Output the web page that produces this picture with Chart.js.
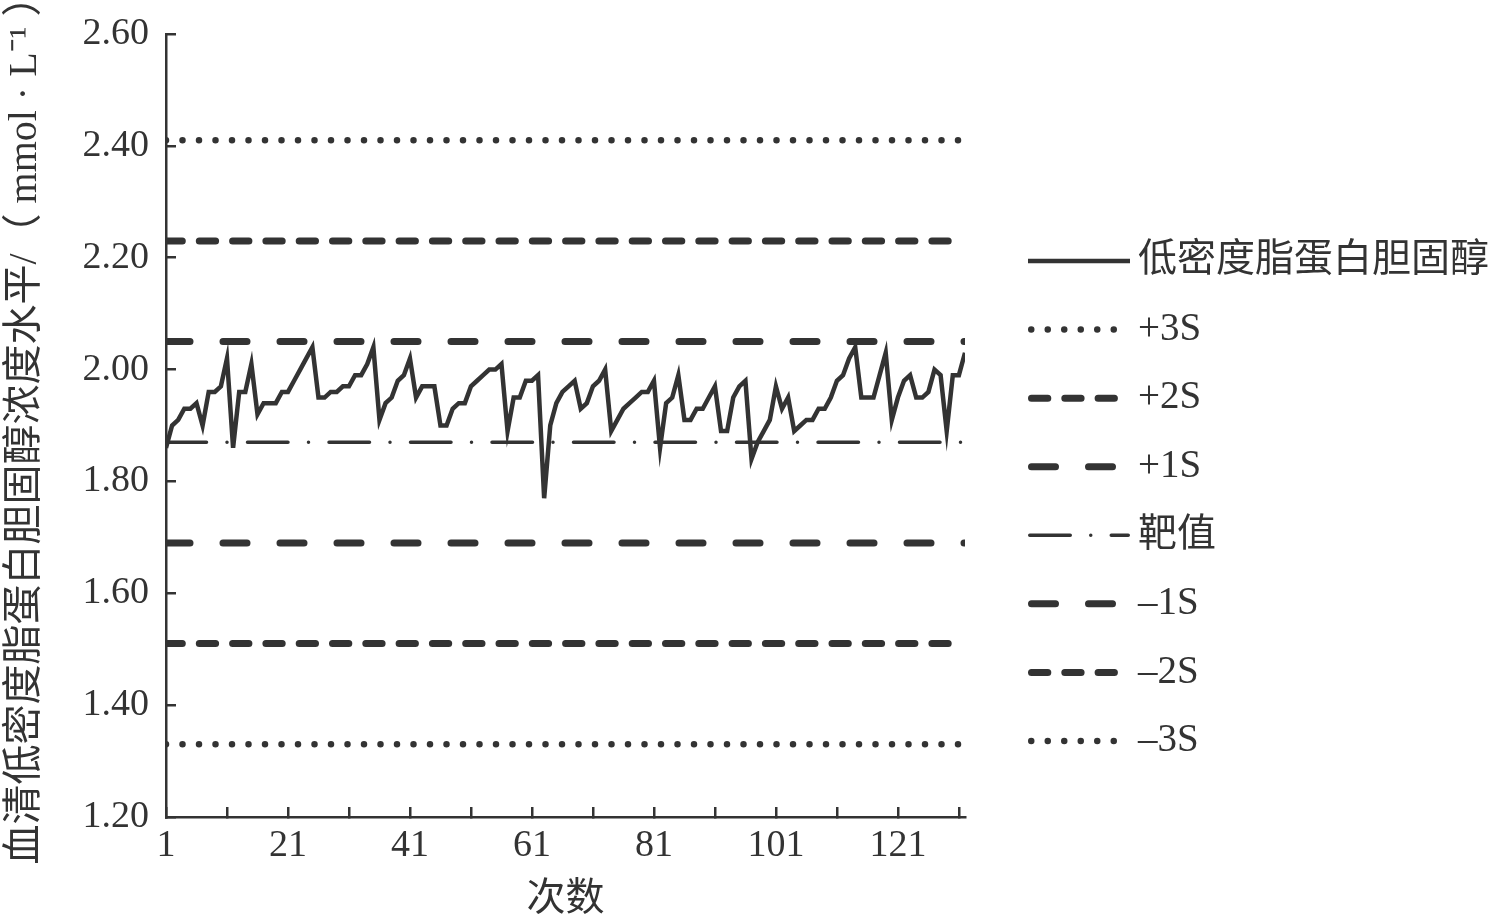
<!DOCTYPE html>
<html lang="zh">
<head>
<meta charset="utf-8">
<title>低密度脂蛋白胆固醇质控图</title>
<script src="https://cdn.jsdelivr.net/npm/chart.js@4.4.1/dist/chart.umd.min.js"></script>
<style>
  html, body { margin: 0; padding: 0; background: #fff; }
  #wrap { width: 1500px; height: 919px; position: relative; }
</style>
</head>
<body>
<div id="wrap"><canvas id="qc-chart"></canvas></div>
<script>
/* ---- Data ---- */
const seriesLabel = '低密度脂蛋白胆固醇';
const ldlValues = [
  1.86, 1.90, 1.91, 1.93, 1.93, 1.94, 1.90, 1.96, 1.96, 1.97,
  2.02, 1.86, 1.96, 1.96, 2.01, 1.92, 1.94, 1.94, 1.94, 1.96,
  1.96, 1.98, 2.00, 2.02, 2.04, 1.95, 1.95, 1.96, 1.96, 1.97,
  1.97, 1.99, 1.99, 2.01, 2.04, 1.91, 1.94, 1.95, 1.98, 1.99,
  2.02, 1.95, 1.97, 1.97, 1.97, 1.90, 1.90, 1.93, 1.94, 1.94,
  1.97, 1.98, 1.99, 2.00, 2.00, 2.01, 1.89, 1.95, 1.95, 1.98,
  1.98, 1.99, 1.77, 1.90, 1.94, 1.96, 1.97, 1.98, 1.93, 1.94,
  1.97, 1.98, 2.00, 1.89, 1.91, 1.93, 1.94, 1.95, 1.96, 1.96,
  1.98, 1.86, 1.94, 1.95, 1.99, 1.91, 1.91, 1.93, 1.93, 1.95,
  1.97, 1.89, 1.89, 1.95, 1.97, 1.98, 1.84, 1.87, 1.89, 1.91,
  1.97, 1.93, 1.95, 1.89, 1.90, 1.91, 1.91, 1.93, 1.93, 1.95,
  1.98, 1.99, 2.02, 2.04, 1.95, 1.95, 1.95, 1.99, 2.03, 1.91,
  1.95, 1.98, 1.99, 1.95, 1.95, 1.96, 2.00, 1.99, 1.89, 1.99,
  1.99, 2.03
];
const limitLabels = ['+3S', '+2S', '+1S', '靶值', '–1S', '–2S', '–3S'];
const limitValues = [2.41, 2.23, 2.05, 1.87, 1.69, 1.51, 1.33];
const limitStyles = ['dot', 'dash2', 'dash1', 'target', 'dash1', 'dash2', 'dot'];

const yTicks = [1.20, 1.40, 1.60, 1.80, 2.00, 2.20, 2.40, 2.60];
const xTicks = [1, 11, 21, 31, 41, 51, 61, 71, 81, 91, 101, 111, 121, 131];
const xLabels = [1, 21, 41, 61, 81, 101, 121];
const xTitle = '次数';
const yTitle = '血清低密度脂蛋白胆固醇浓度水平/（ mmol · L⁻¹ ）';

/* ---- Styles ---- */
const INK = '#333';
const SERIF = "'Liberation Serif', 'Noto Sans CJK SC', serif";

const LINE_STYLES = {
  solid:  { borderWidth: 4.5, borderDash: [],                    borderCapStyle: 'butt',  legendEnd: 1130 },
  dot:    { borderWidth: 6.5, borderDash: [0, 16.5],             borderCapStyle: 'round', legendEnd: 1118 },
  dash2:  { borderWidth: 7,   borderDash: [16.3, 17],            borderCapStyle: 'round', legendEnd: 1118 },
  dash1:  { borderWidth: 7,   borderDash: [24, 33],              borderCapStyle: 'round', legendEnd: 1118 },
  target: { borderWidth: 3.5, borderDash: [40.5, 20.5, 0, 20.5], borderCapStyle: 'round', legendEnd: 1130 },
};

function makeDataset(label, points, styleKey) {
  const s = LINE_STYLES[styleKey];
  return {
    label, data: points,
    borderColor: INK, borderWidth: s.borderWidth, borderDash: s.borderDash,
    borderCapStyle: s.borderCapStyle, borderJoinStyle: 'miter',
    pointRadius: 0, pointHoverRadius: 0, fill: false, tension: 0,
    legendEnd: s.legendEnd
  };
}

const lastRun = ldlValues.length;
const datasets = [
  makeDataset(seriesLabel, ldlValues.map((v, i) => ({ x: i + 1, y: v })), 'solid'),
  ...limitValues.map((v, i) => makeDataset(limitLabels[i], [{ x: 1, y: v }, { x: lastRun, y: v }], limitStyles[i]))
];

/* ---- Plugins: rotated y title + side legend ---- */
const yTitlePlugin = {
  id: 'yTitle',
  afterDraw(chart) {
    const { ctx, chartArea } = chart;
    ctx.save();
    ctx.translate(25, (chartArea.top + chartArea.bottom) / 2 - 5);
    ctx.rotate(-Math.PI / 2);
    ctx.font = `40px ${SERIF}`;
    ctx.fillStyle = INK;
    ctx.textAlign = 'center';
    ctx.textBaseline = 'middle';
    ctx.fillText(yTitle, 0, 0);
    ctx.restore();
  }
};

const LEGEND_X = 1028, LEGEND_TEXT_X = 1138, LEGEND_TOP = 261, LEGEND_ROW = 68.57;
const sideLegendPlugin = {
  id: 'sideLegend',
  afterDraw(chart) {
    const ctx = chart.ctx;
    chart.data.datasets.forEach((ds, i) => {
      const y = LEGEND_TOP + i * LEGEND_ROW;
      const cap = ds.borderCapStyle === 'round' ? ds.borderWidth / 2 : 0;
      ctx.save();
      ctx.strokeStyle = ds.borderColor;
      ctx.lineWidth = ds.borderWidth;
      ctx.lineCap = ds.borderCapStyle;
      ctx.setLineDash(ds.borderDash);
      ctx.beginPath();
      ctx.moveTo(LEGEND_X + cap, y);
      ctx.lineTo(ds.legendEnd - cap, y);
      ctx.stroke();
      ctx.setLineDash([]);
      ctx.fillStyle = INK;
      ctx.font = `39px ${SERIF}`;
      ctx.textAlign = 'left';
      ctx.textBaseline = 'middle';
      ctx.fillText(ds.label, LEGEND_TEXT_X, y);
      ctx.restore();
    });
  }
};

/* ---- Chart ---- */
const axisGrid = { drawOnChartArea: false, drawTicks: true, tickLength: -10, color: INK, lineWidth: 2.5 };
const axisBorder = { color: INK, width: 2.5 };
const tickFont = { family: SERIF, size: 38 };

new Chart(document.getElementById('qc-chart'), {
  type: 'line',
  data: { datasets },
  options: {
    responsive: true, maintainAspectRatio: false, animation: false, devicePixelRatio: 1,
    layout: { padding: { top: 34, right: 535, bottom: 0, left: 0 } },
    scales: {
      x: {
        type: 'linear', min: 1, max: lastRun,
        afterBuildTicks: axis => { axis.ticks = xTicks.map(v => ({ value: v })); },
        afterFit: axis => { axis.height = 102; },
        ticks: { autoSkip: false, maxRotation: 0, padding: 16, color: INK, font: tickFont,
                 callback: v => xLabels.includes(v) ? String(v) : '' },
        grid: axisGrid, border: axisBorder,
        title: { display: true, text: xTitle, color: INK, padding: 0,
                 font: { family: SERIF, size: 39, lineHeight: 1 } }
      },
      y: {
        type: 'linear', min: 1.2, max: 2.6,
        afterBuildTicks: axis => { axis.ticks = yTicks.map(v => ({ value: v })); },
        // fixed axis width; label overflow is covered by the layout padding
        afterFit: axis => { axis.width = 166; axis.paddingTop = 0; axis.paddingBottom = 0; },
        ticks: { padding: 27, color: INK, font: tickFont, callback: v => v.toFixed(2) },
        grid: axisGrid, border: axisBorder
      }
    },
    plugins: { legend: { display: false }, tooltip: { enabled: false } }
  },
  plugins: [yTitlePlugin, sideLegendPlugin]
});
</script>
</body>
</html>
